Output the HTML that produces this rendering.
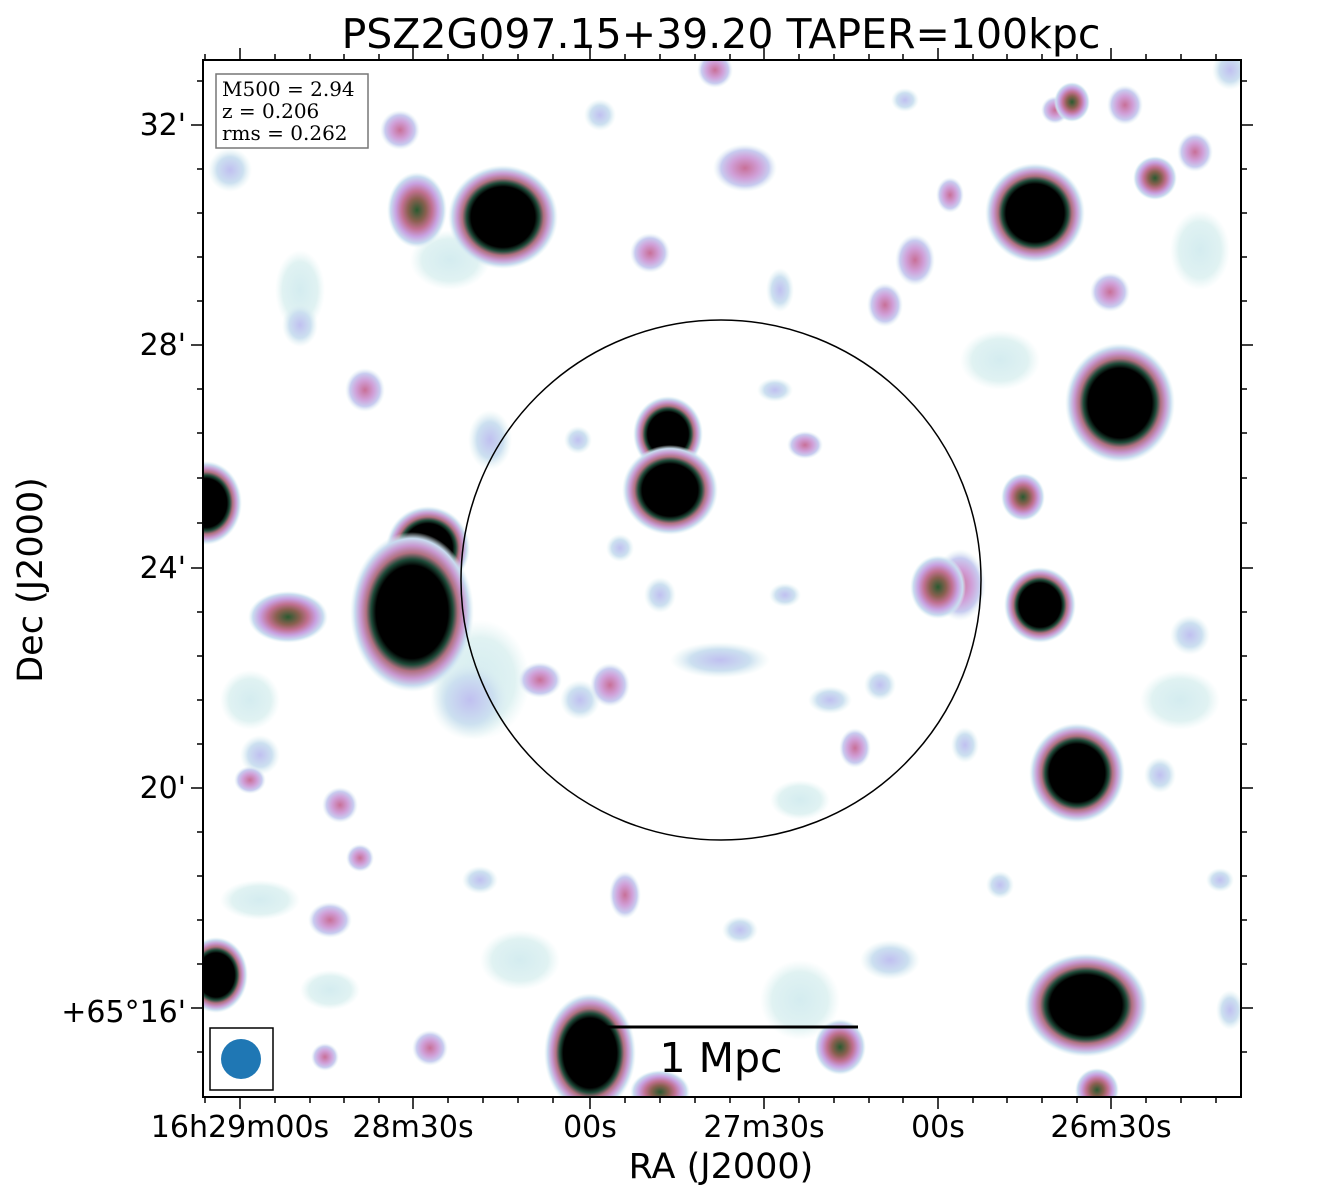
<!DOCTYPE html>
<html><head><meta charset="utf-8"><style>
body{margin:0;background:#fff;}
svg{display:block;font-family:"DejaVu Sans","Liberation Sans",sans-serif;}
</style></head><body>
<svg width="1321" height="1200" viewBox="0 0 1321 1200" xmlns="http://www.w3.org/2000/svg">
<defs>
<radialGradient id="s"><stop offset="0" stop-color="#000"/><stop offset="0.58" stop-color="#000"/><stop offset="0.66" stop-color="#1d4a38"/><stop offset="0.74" stop-color="#b07080"/><stop offset="0.83" stop-color="#c898d0"/><stop offset="0.92" stop-color="#c8dcf0"/><stop offset="1" stop-color="#e0f2f2" stop-opacity="0"/></radialGradient>
<radialGradient id="m"><stop offset="0" stop-color="#2a5a30"/><stop offset="0.3" stop-color="#8a6050"/><stop offset="0.5" stop-color="#c07090"/><stop offset="0.7" stop-color="#c8a0e0"/><stop offset="0.88" stop-color="#c8dcf0"/><stop offset="1" stop-color="#e0f2f2" stop-opacity="0"/></radialGradient>
<radialGradient id="p"><stop offset="0" stop-color="#c87098"/><stop offset="0.45" stop-color="#d0a0d8"/><stop offset="0.75" stop-color="#c8ccf0"/><stop offset="1" stop-color="#e0f2f2" stop-opacity="0"/></radialGradient>
<radialGradient id="w"><stop offset="0" stop-color="#c0c0f0"/><stop offset="0.6" stop-color="#cce0f0"/><stop offset="1" stop-color="#e0f2f2" stop-opacity="0"/></radialGradient>
<radialGradient id="h"><stop offset="0" stop-color="#d4ecf0"/><stop offset="0.7" stop-color="#e0f2f2"/><stop offset="1" stop-color="#e8f6f6" stop-opacity="0"/></radialGradient>
<clipPath id="c"><rect x="203" y="60" width="1038" height="1037"/></clipPath>
</defs>
<text x="721" y="48" font-size="41" text-anchor="middle">PSZ2G097.15+39.20 TAPER=100kpc</text>
<g clip-path="url(#c)">
<g fill="url(#h)">
<ellipse cx="450" cy="260" rx="40" ry="30"/><ellipse cx="300" cy="290" rx="25" ry="40"/><ellipse cx="480" cy="680" rx="50" ry="60"/>
<ellipse cx="260" cy="900" rx="40" ry="20"/><ellipse cx="330" cy="990" rx="30" ry="20"/><ellipse cx="1000" cy="360" rx="40" ry="30"/>
<ellipse cx="1180" cy="700" rx="40" ry="30"/><ellipse cx="800" cy="1000" rx="40" ry="40"/><ellipse cx="520" cy="960" rx="40" ry="30"/>
<ellipse cx="250" cy="700" rx="30" ry="30"/><ellipse cx="1200" cy="250" rx="30" ry="40"/><ellipse cx="800" cy="800" rx="30" ry="20"/>
</g>
<g fill="url(#w)">
<ellipse cx="300" cy="325" rx="18" ry="22"/><ellipse cx="490" cy="440" rx="22" ry="30"/><ellipse cx="470" cy="700" rx="40" ry="40"/>
<ellipse cx="720" cy="660" rx="50" ry="18"/><ellipse cx="830" cy="700" rx="22" ry="14"/><ellipse cx="880" cy="685" rx="16" ry="16"/>
<ellipse cx="480" cy="880" rx="18" ry="14"/><ellipse cx="740" cy="930" rx="18" ry="14"/><ellipse cx="890" cy="960" rx="30" ry="20"/>
<ellipse cx="600" cy="115" rx="16" ry="16"/><ellipse cx="905" cy="100" rx="14" ry="12"/><ellipse cx="780" cy="290" rx="14" ry="22"/>
<ellipse cx="1190" cy="635" rx="20" ry="20"/><ellipse cx="1160" cy="775" rx="16" ry="18"/><ellipse cx="260" cy="755" rx="20" ry="20"/>
<ellipse cx="1000" cy="885" rx="14" ry="14"/><ellipse cx="1220" cy="880" rx="14" ry="12"/><ellipse cx="580" cy="700" rx="20" ry="20"/>
<ellipse cx="660" cy="595" rx="16" ry="18"/><ellipse cx="785" cy="595" rx="16" ry="12"/><ellipse cx="620" cy="548" rx="14" ry="14"/>
<ellipse cx="578" cy="440" rx="14" ry="14"/><ellipse cx="775" cy="390" rx="18" ry="12"/><ellipse cx="965" cy="745" rx="14" ry="18"/>
<ellipse cx="1230" cy="1010" rx="14" ry="20"/><ellipse cx="1230" cy="70" rx="18" ry="20"/><ellipse cx="230" cy="170" rx="22" ry="22"/>
</g>
<g fill="url(#p)">
<ellipse cx="400" cy="130" rx="20" ry="20"/><ellipse cx="745" cy="168" rx="32" ry="24"/><ellipse cx="715" cy="70" rx="18" ry="18"/>
<ellipse cx="650" cy="253" rx="20" ry="20"/><ellipse cx="915" cy="260" rx="20" ry="26"/><ellipse cx="885" cy="305" rx="18" ry="22"/>
<ellipse cx="950" cy="195" rx="14" ry="18"/><ellipse cx="1110" cy="292" rx="20" ry="20"/><ellipse cx="1125" cy="105" rx="18" ry="20"/>
<ellipse cx="1195" cy="152" rx="18" ry="20"/><ellipse cx="365" cy="390" rx="20" ry="22"/><ellipse cx="805" cy="445" rx="18" ry="14"/>
<ellipse cx="540" cy="680" rx="22" ry="18"/><ellipse cx="610" cy="685" rx="20" ry="22"/><ellipse cx="855" cy="748" rx="16" ry="20"/>
<ellipse cx="340" cy="805" rx="18" ry="18"/><ellipse cx="360" cy="858" rx="14" ry="14"/><ellipse cx="625" cy="895" rx="16" ry="24"/>
<ellipse cx="330" cy="920" rx="22" ry="18"/><ellipse cx="430" cy="1048" rx="18" ry="18"/><ellipse cx="325" cy="1057" rx="14" ry="14"/>
<ellipse cx="250" cy="780" rx="16" ry="14"/><ellipse cx="1055" cy="110" rx="14" ry="14"/><ellipse cx="960" cy="585" rx="26" ry="36"/>
</g>
<g fill="url(#m)">
<ellipse cx="417" cy="210" rx="30" ry="38"/><ellipse cx="288" cy="617" rx="40" ry="26"/><ellipse cx="938" cy="587" rx="28" ry="32"/>
<ellipse cx="840" cy="1047" rx="26" ry="28"/><ellipse cx="1072" cy="102" rx="18" ry="20"/><ellipse cx="1155" cy="178" rx="22" ry="22"/>
<ellipse cx="1097" cy="1090" rx="22" ry="22"/><ellipse cx="660" cy="1092" rx="30" ry="22"/><ellipse cx="1023" cy="497" rx="22" ry="24"/>
</g>
<g fill="url(#s)">
<ellipse cx="503" cy="217" rx="55" ry="52"/><ellipse cx="1035" cy="213" rx="50" ry="50"/><ellipse cx="1120" cy="403" rx="55" ry="60"/>
<ellipse cx="668" cy="434" rx="35" ry="38"/><ellipse cx="670" cy="490" rx="48" ry="45"/>
<ellipse cx="428" cy="548" rx="42" ry="42"/><ellipse cx="412" cy="612" rx="62" ry="80"/>
<ellipse cx="1077" cy="773" rx="48" ry="50"/><ellipse cx="1086" cy="1005" rx="62" ry="52"/><ellipse cx="590" cy="1053" rx="46" ry="60"/>
<ellipse cx="216" cy="975" rx="32" ry="38"/><ellipse cx="206" cy="503" rx="36" ry="42"/><ellipse cx="1040" cy="605" rx="36" ry="38"/>
</g>
</g>
<circle cx="721" cy="580" r="260" fill="none" stroke="#000" stroke-width="1.5"/>
<line x1="598" y1="1027" x2="858" y2="1027" stroke="#000" stroke-width="3"/>
<text x="721" y="1072" font-size="41" text-anchor="middle">1 Mpc</text>
<rect x="210" y="1028" width="63" height="62" fill="#fff" stroke="#000" stroke-width="1.5"/>
<circle cx="241" cy="1059" r="20" fill="#1f77b4"/>
<rect x="216" y="74" width="152" height="74" fill="#fff" fill-opacity="0.85" stroke="#777" stroke-width="1.5"/>
<g font-family="'DejaVu Serif',serif" font-size="20"><text x="222" y="96">M500 = 2.94</text><text x="222" y="118">z = 0.206</text><text x="222" y="140">rms = 0.262</text></g>
<rect x="203" y="60" width="1038" height="1037" fill="none" stroke="#000" stroke-width="2"/>
<g stroke="#000" stroke-width="1.5">
<path d="M240 1097v12M413 1097v12M590 1097v12M764 1097v12M938 1097v12M1111 1097v12M240 60v-12M413 60v-12M590 60v-12M764 60v-12M938 60v-12M1111 60v-12"/>
<path d="M203 125h-12M203 345h-12M203 568h-12M203 788h-12M203 1008h-12M1241 125h12M1241 345h12M1241 568h12M1241 788h12M1241 1008h12"/>
<path d="M205 1097v6M275 1097v6M310 1097v6M344 1097v6M379 1097v6M448 1097v6M483 1097v6M518 1097v6M553 1097v6M625 1097v6M660 1097v6M695 1097v6M730 1097v6M799 1097v6M834 1097v6M869 1097v6M903 1097v6M973 1097v6M1007 1097v6M1042 1097v6M1077 1097v6M1146 1097v6M1181 1097v6M1216 1097v6"/>
<path d="M205 60v-6M275 60v-6M310 60v-6M344 60v-6M379 60v-6M448 60v-6M483 60v-6M518 60v-6M553 60v-6M625 60v-6M660 60v-6M695 60v-6M730 60v-6M799 60v-6M834 60v-6M869 60v-6M903 60v-6M973 60v-6M1007 60v-6M1042 60v-6M1077 60v-6M1146 60v-6M1181 60v-6M1216 60v-6"/>
<path d="M203 81h-6M203 169h-6M203 213h-6M203 257h-6M203 301h-6M203 389h-6M203 433h-6M203 478h-6M203 523h-6M203 612h-6M203 656h-6M203 700h-6M203 744h-6M203 832h-6M203 876h-6M203 920h-6M203 964h-6M203 1052h-6"/>
<path d="M1241 81h6M1241 169h6M1241 213h6M1241 257h6M1241 301h6M1241 389h6M1241 433h6M1241 478h6M1241 523h6M1241 612h6M1241 656h6M1241 700h6M1241 744h6M1241 832h6M1241 876h6M1241 920h6M1241 964h6M1241 1052h6"/>
</g>
<g font-size="30">
<g text-anchor="middle"><text x="240" y="1137">16h29m00s</text><text x="413" y="1137">28m30s</text><text x="590" y="1137">00s</text><text x="764" y="1137">27m30s</text><text x="938" y="1137">00s</text><text x="1111" y="1137">26m30s</text></g>
<g text-anchor="end"><text x="186" y="135">32'</text><text x="186" y="355">28'</text><text x="186" y="578">24'</text><text x="186" y="798">20'</text><text x="186" y="1022">+65°16'</text></g>
</g>
<text x="721" y="1178" font-size="35" text-anchor="middle">RA (J2000)</text>
<text transform="translate(42,580) rotate(-90)" font-size="35" text-anchor="middle">Dec (J2000)</text>
</svg>
</body></html>
